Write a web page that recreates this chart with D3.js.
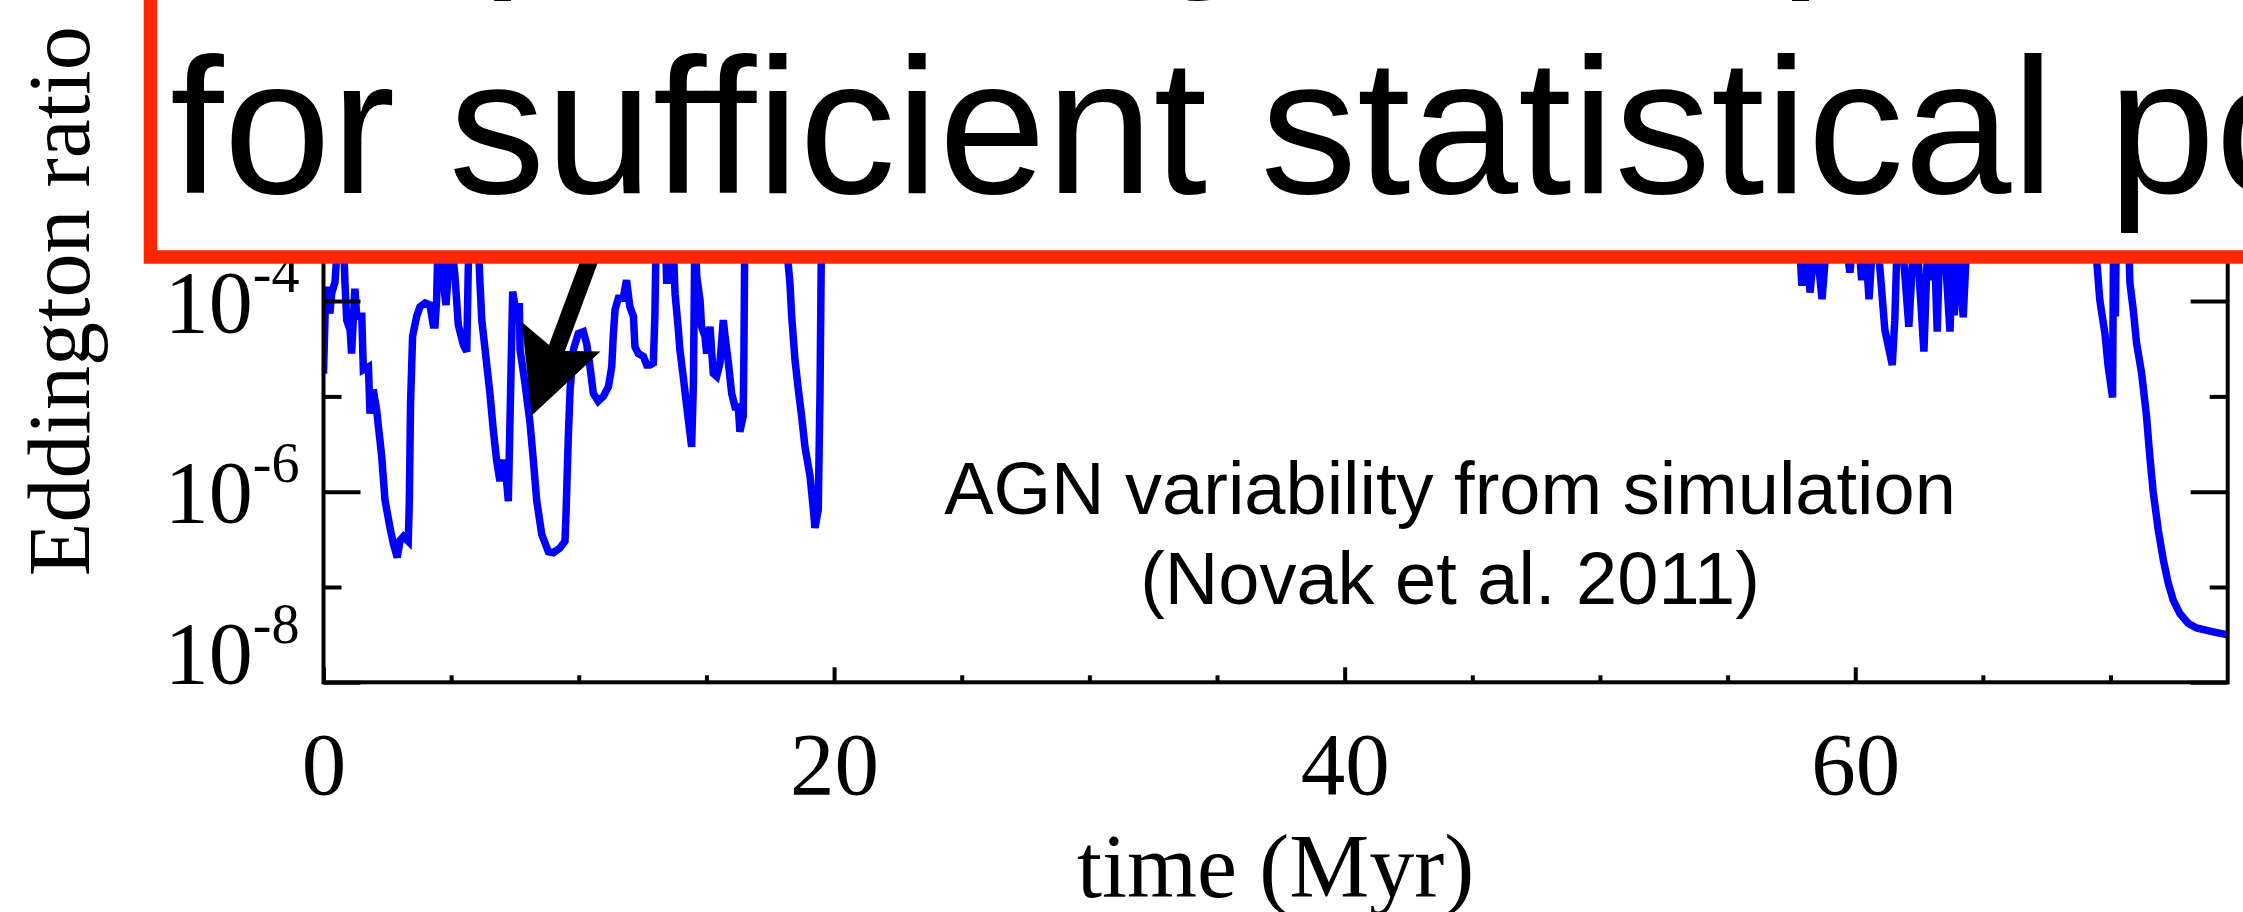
<!DOCTYPE html>
<html>
<head>
<meta charset="utf-8">
<script src="https://cdn.jsdelivr.net/npm/d3@7"></script>
<style>
  html, body { margin: 0; padding: 0; background: #fff; overflow: hidden; }
  svg { display: block; }
</style>
</head>
<body>
<div id="chart"></div>
<script>
// time in Myr
var timeMyr = [
	0.00, 0.06, 0.12, 0.25, 0.32, 0.45, 0.60, 0.78, 0.84, 0.91, 1.04, 1.10, 1.23, 1.30, 1.50, 1.56,
	1.76, 1.82, 1.95, 2.08, 2.28, 2.41, 2.60, 2.74, 2.89, 3.00, 3.13, 3.32, 3.36, 3.41, 3.49, 3.65,
	3.78, 3.98, 4.17, 4.30, 4.37, 4.43, 4.50, 4.63, 4.69, 4.80, 4.89, 5.02, 5.15, 5.28, 5.48, 5.61,
	5.67, 5.74, 6.00, 6.13, 6.20, 6.33, 6.52, 6.65, 6.78, 6.91, 7.02, 7.11, 7.24, 7.33, 7.41, 7.57,
	7.67, 7.70, 7.89, 8.09, 8.22, 8.35, 8.55, 8.81, 9.00, 9.26, 9.46, 9.50, 9.59, 9.66, 9.79, 9.98,
	10.18, 10.31, 10.44, 10.57, 10.76, 10.96, 11.16, 11.29, 11.35, 11.42, 11.55, 11.74, 11.87, 12.00,
	12.14, 12.20, 12.33, 12.53, 12.66, 12.79, 12.92, 12.98, 13.05, 13.38, 13.44, 13.64, 13.70, 13.77,
	13.90, 13.96, 14.09, 14.23, 14.42, 14.49, 14.55, 14.62, 14.75, 14.81, 14.94, 15.01, 15.14, 15.20,
	15.27, 15.40, 15.53, 15.66, 15.73, 15.86, 15.99, 16.12, 16.25, 16.31, 16.44, 16.47, 16.51, 17.00,
	17.60, 18.10, 18.27, 18.34, 18.47, 18.60, 18.73, 18.86, 19.06, 19.19, 19.25, 19.38, 19.45, 19.51,
	20.5, 22.0, 24.0, 27.0, 30.0, 33.0, 36.0, 39.0, 42.0, 45.0, 48.0, 51.0, 54.0, 56.5, 57.6,
	57.80, 57.91, 58.05, 58.23, 58.45, 58.70, 58.90, 59.60, 59.79, 59.95, 60.15, 60.25, 60.40, 60.54,
	60.70, 60.86, 61.16, 61.45, 61.55, 61.65, 61.85, 62.10, 62.30, 62.45, 62.69, 62.85, 62.99, 63.10,
	63.21, 63.30, 63.38, 63.50, 63.71, 63.80, 63.88, 64.05, 64.23, 64.40,
	65.5, 67.0, 68.5, 69.35,
	69.58, 69.78, 69.91, 70.08, 70.12, 70.19, 70.23, 70.70, 70.76, 70.89, 71.02, 71.22, 71.41, 71.54,
	71.67, 71.87, 72.07, 72.26, 72.46, 72.72, 73.04, 73.37, 74.02, 74.55
];

// log10 of the Eddington ratio at each time
var logEddRatio = [
	-4.76, -4.16, -3.85, -4.13, -3.92, -3.80, -3.20, -3.30, -3.81, -4.20, -4.30, -4.55, -3.87, -4.16, -4.16, -4.72,
	-4.69, -5.18, -4.93, -5.14, -5.63, -6.09, -6.37, -6.55, -6.69, -6.51, -6.47, -6.52, -6.12, -5.07, -4.37, -4.16,
	-4.06, -4.02, -4.04, -4.25, -4.25, -3.99, -3.20, -3.30, -3.81, -4.04, -3.67, -3.40, -3.74, -4.25, -4.46, -4.53,
	-3.67, -3.00, -3.00, -3.81, -4.20, -4.51, -4.97, -5.35, -5.67, -5.89, -5.70, -5.70, -6.10, -4.93, -3.90, -4.16,
	-4.02, -4.51, -4.86, -5.28, -5.67, -6.09, -6.45, -6.63, -6.64, -6.59, -6.52, -6.23, -5.42, -4.93, -4.51, -4.34,
	-4.32, -4.45, -4.69, -4.97, -5.05, -5.00, -4.90, -4.69, -4.37, -4.09, -3.97, -3.97, -3.78, -4.06,
	-4.16, -4.48, -4.55, -4.58, -4.67, -4.67, -4.65, -4.16, -3.00, -3.20, -3.78, -3.78, -3.40, -3.92,
	-4.30, -4.51, -4.79, -5.11, -5.53, -4.86, -3.20, -3.74, -3.99, -4.27, -4.37, -4.55, -4.27, -4.51,
	-4.76, -4.79, -4.65, -4.20, -4.37, -4.65, -4.97, -5.11, -5.11, -5.37, -5.21, -4.50, -3.00, -2.70,
	-2.90, -3.30, -3.81, -4.16, -4.62, -4.93, -5.21, -5.53, -5.84, -6.19, -6.38, -6.19, -4.93, -3.20,
	-2.6, -2.2, -1.9, -2.3, -1.8, -2.1, -1.7, -2.0, -1.6, -1.9, -2.2, -1.8, -2.3, -2.8, -3.3,
	-3.30, -3.84, -3.30, -3.91, -3.30, -3.98, -3.30, -3.30, -3.70, -3.30, -3.40, -3.78, -3.40, -3.98,
	-3.30, -3.30, -4.30, -4.67, -4.20, -3.30, -3.40, -4.27, -3.30, -3.50, -4.53, -3.30, -3.78, -3.40,
	-4.32, -3.50, -3.64, -3.40, -4.32, -3.60, -4.15, -3.40, -4.17, -3.20,
	-2.5, -2.0, -2.6, -3.2,
	-3.99, -4.34, -4.69, -5.01, -3.30, -4.16, -3.20, -3.30, -3.81, -4.09, -4.44, -4.76, -5.21, -5.63,
	-6.00, -6.40, -6.72, -6.96, -7.14, -7.28, -7.38, -7.43, -7.47, -7.50
];

var xMajorTicks = [0, 20, 40, 60];
var xMinorTicks = [5, 10, 15, 25, 30, 35, 45, 50, 55, 65, 70];
var yMajorExp = [-8, -6, -4, -2, 0];
var yMinorExp = [-7, -5, -3, -1];

var boxLines = ["Requires high sample sizes", "for sufficient statistical power"];
var noteLines = ["AGN variability from simulation", "(Novak et al. 2011)"];

// arrow points at the dip near 8 Myr
var arrowTip = {t: 8.16, logE: -5.2};

var W = 2243, H = 912;
var serif = "'Liberation Serif', 'Times New Roman', Times, serif";
var sans = "'Liberation Sans', Arial, Helvetica, sans-serif";

var svg = d3.select("#chart")
	.append("svg")
	.attr("width", W)
	.attr("height", H);

// plot frame (top of it is off the slide)
var x = d3.scaleLinear()
	.domain([0, 74.59])
	.range([323.5, 2227.7]);

var y = d3.scaleLog()
	.domain([1e-8, 1])
	.range([682.3, -80.1]);

var data = timeMyr.map(function (t, i) {
	return {t: t, v: Math.pow(10, logEddRatio[i])};
});

svg.append("clipPath")
	.attr("id", "plotclip")
	.append("rect")
	.attr("x", x.range()[0])
	.attr("y", y.range()[1])
	.attr("width", x.range()[1] - x.range()[0])
	.attr("height", y.range()[0] - y.range()[1]);

var line = d3.line()
	.x(function (d) { return x(d.t); })
	.y(function (d) { return y(d.v); });

svg.append("path")
	.datum(data)
	.attr("clip-path", "url(#plotclip)")
	.attr("d", line)
	.attr("fill", "none")
	.attr("stroke", "#0000ff")
	.attr("stroke-width", 7.5);

// axes, ticks pointing inward like IDL
function styleAxis(g) {
	g.select(".domain").remove();
	g.selectAll("line").attr("stroke", "#000").attr("stroke-width", 4);
	g.attr("font-family", serif);
}

var yMajorVals = yMajorExp.map(function (e) { return Math.pow(10, e); });
var yMinorVals = yMinorExp.map(function (e) { return Math.pow(10, e); });

var gLeft = svg.append("g")
	.attr("transform", "translate(" + x.range()[0] + ",0)")
	.call(d3.axisLeft(y).tickValues(yMajorVals).tickSizeInner(-37).tickSizeOuter(0).tickPadding(24).tickFormat(""))
	.call(styleAxis);

gLeft.selectAll(".tick text")
	.attr("font-size", 88)
	.attr("fill", "#000")
	.attr("dy", function (d, i) { return yMajorExp[i] === -8 ? "0em" : "0.34em"; })
	.each(function (d, i) {
		var t = d3.select(this);
		t.text("10");
		t.append("tspan")
			.attr("dy", -40)
			.attr("font-size", 56)
			.text(yMajorExp[i] < 0 ? "-" + Math.abs(yMajorExp[i]) : String(yMajorExp[i]));
	});

svg.append("g")
	.attr("transform", "translate(" + x.range()[0] + ",0)")
	.call(d3.axisLeft(y).tickValues(yMinorVals).tickSizeInner(-18).tickSizeOuter(0).tickFormat(""))
	.call(styleAxis);

svg.append("g")
	.attr("transform", "translate(" + x.range()[1] + ",0)")
	.call(d3.axisRight(y).tickValues(yMajorVals).tickSizeInner(-37).tickSizeOuter(0).tickFormat(""))
	.call(styleAxis);

svg.append("g")
	.attr("transform", "translate(" + x.range()[1] + ",0)")
	.call(d3.axisRight(y).tickValues(yMinorVals).tickSizeInner(-18).tickSizeOuter(0).tickFormat(""))
	.call(styleAxis);

var gBottom = svg.append("g")
	.attr("transform", "translate(0," + y.range()[0] + ")")
	.call(d3.axisBottom(x).tickValues(xMajorTicks).tickSizeInner(-15).tickSizeOuter(0).tickPadding(49).tickFormat(d3.format("d")))
	.call(styleAxis);

gBottom.selectAll(".tick text")
	.attr("font-size", 89)
	.attr("fill", "#000");

svg.append("g")
	.attr("transform", "translate(0," + y.range()[0] + ")")
	.call(d3.axisBottom(x).tickValues(xMinorTicks).tickSizeInner(-7).tickSizeOuter(0).tickFormat(""))
	.call(styleAxis);

svg.append("rect")
	.attr("x", x.range()[0])
	.attr("y", y.range()[1])
	.attr("width", x.range()[1] - x.range()[0])
	.attr("height", y.range()[0] - y.range()[1])
	.attr("fill", "none")
	.attr("stroke", "#000")
	.attr("stroke-width", 4);

// axis titles
svg.append("text")
	.attr("transform", "translate(89.3,301.3) rotate(-90)")
	.attr("text-anchor", "middle")
	.attr("font-family", serif)
	.attr("font-size", 88)
	.attr("fill", "#000")
	.text("Eddington ratio");

svg.append("text")
	.attr("x", (x.range()[0] + x.range()[1]) / 2)
	.attr("y", 896.7)
	.attr("text-anchor", "middle")
	.attr("font-family", serif)
	.attr("font-size", 90)
	.attr("fill", "#000")
	.text("time (Myr)");

// annotation in the plot
svg.append("g")
	.selectAll("text")
	.data(noteLines)
	.enter()
	.append("text")
	.attr("x", 1450)
	.attr("y", function (d, i) { return 513.7 + i * 89.8; })
	.attr("text-anchor", "middle")
	.attr("font-family", sans)
	.attr("font-size", 74)
	.attr("fill", "#000")
	.text(function (d) { return d; });

// black arrow from the callout box down to the dip
var tip = [x(arrowTip.t), y(Math.pow(10, arrowTip.logE))];
var u = [0.349, -0.937], n = [0.937, 0.349];
function along(a, b) { return [tip[0] + a * u[0] + b * n[0], tip[1] + a * u[1] + b * n[1]]; }

svg.append("line")
	.attr("x1", along(60, 0)[0]).attr("y1", along(60, 0)[1])
	.attr("x2", along(310, 0)[0]).attr("y2", along(310, 0)[1])
	.attr("stroke", "#000")
	.attr("stroke-width", 17);

svg.append("polygon")
	.attr("points", [tip, along(84, -42), along(69, 0), along(84, 42)].map(function (p) { return p.join(","); }).join(" "))
	.attr("fill", "#000");

// red callout box, runs off the top and right of the slide
svg.append("rect")
	.attr("x", 150.5)
	.attr("y", -120)
	.attr("width", 2300)
	.attr("height", 377)
	.attr("fill", "#fff")
	.attr("stroke", "#ff2600")
	.attr("stroke-width", 13.5);

svg.append("g")
	.selectAll("text")
	.data(boxLines)
	.enter()
	.append("text")
	.attr("x", 170)
	.attr("y", function (d, i) { return -39 + i * 232; })
	.attr("font-family", sans)
	.attr("font-size", 193)
	.attr("fill", "#000")
	.text(function (d) { return d; });
</script>
</body>
</html>
